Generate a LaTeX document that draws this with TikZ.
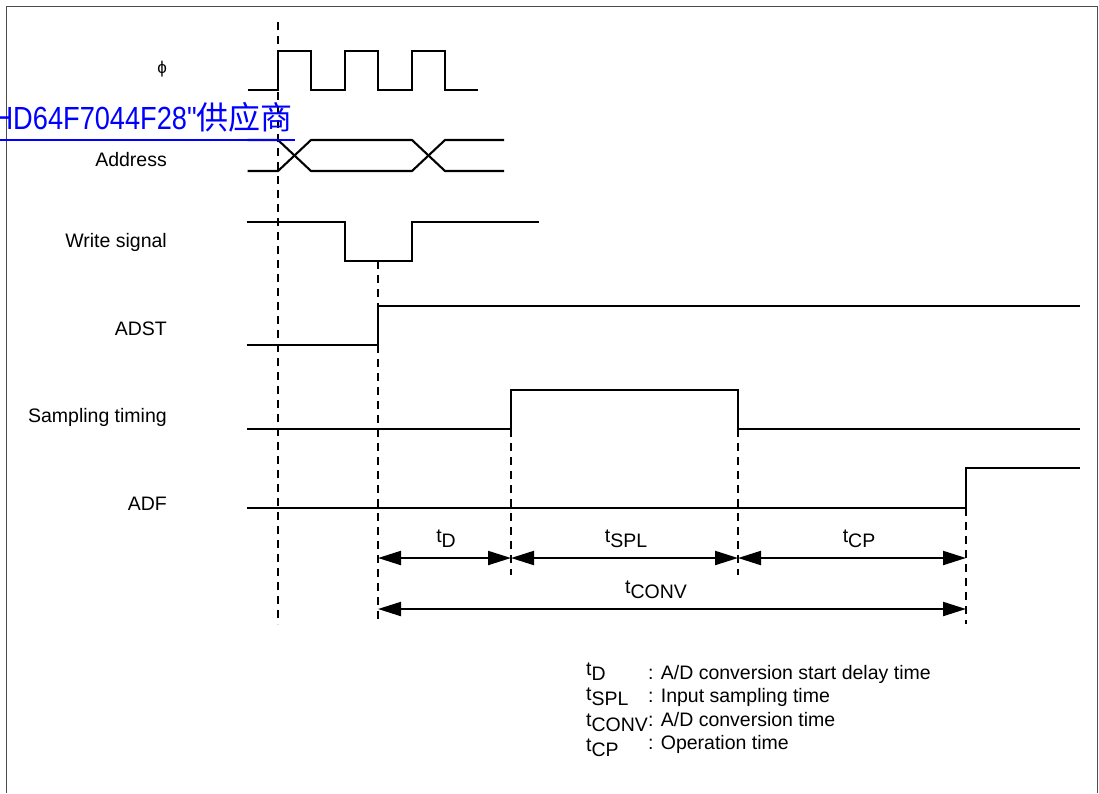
\documentclass[tikz,border=0pt]{standalone}
\usepackage{graphicx}
\usepackage{fontspec}
\setmainfont{Liberation Sans}
\newfontfamily\cjkfam{Noto Sans CJK SC}
\newfontfamily\linkfam[Ligatures=NoCommon]{Liberation Sans}
\usetikzlibrary{arrows.meta}
\newcommand{\tsub}[1]{t\raisebox{-5.5pt}{#1}}
\tikzset{
  wave/.style={line width=2.1pt,black,line join=miter},
  guide/.style={line width=2pt,black,dash pattern=on 8pt off 6pt},
  span/.style={line width=2.1pt,black,{Triangle[length=23pt,width=14pt]}-{Triangle[length=23pt,width=14pt]}},
  siglabel/.style={anchor=base east,inner sep=0pt,font=\fontsize{19.5pt}{22pt}\selectfont},
  dimlabel/.style={anchor=base,inner sep=0pt,font=\fontsize{19.5pt}{22pt}\selectfont},
  legend/.style={anchor=base west,inner sep=0pt,font=\fontsize{19.5pt}{22pt}\selectfont},
  frameline/.style={line width=1.2pt,black!70}
}
\begin{document}
\begin{tikzpicture}[x=1pt,y=-1pt]
\useasboundingbox (0,0) rectangle (1099,793);
\draw[frameline] (6.5,793) -- (6.5,6.5) -- (1097.5,6.5) -- (1097.5,793);
% guide lines
\coordinate (g1a) at (278,22); \coordinate (g1b) at (278,624);
\coordinate (g2a) at (378,261); \coordinate (g2b) at (378,624);
\coordinate (g3a) at (511,429); \coordinate (g3b) at (511,575);
\coordinate (g4a) at (738,429); \coordinate (g4b) at (738,575);
\coordinate (g5a) at (966,508); \coordinate (g5b) at (966,624);
\draw[guide] (g1a) -- (g1b);
\draw[guide] (g2a) -- (g2b);
\draw[guide] (g3a) -- (g3b);
\draw[guide] (g4a) -- (g4b);
\draw[guide] (g5a) -- (g5b);
% signal labels
\node[siglabel,font=\fontsize{17pt}{20pt}\selectfont] (lphi) at (167,73) {ϕ};
\node[siglabel] (laddr) at (167,166) {Address};
\node[siglabel] (lwrite) at (167,247) {Write signal};
\node[siglabel] (ladst) at (167,335) {ADST};
\node[siglabel] (lsamp) at (167,422) {Sampling timing};
\node[siglabel] (ladf) at (167,510) {ADF};
% waveforms
\draw[wave] (247.5,90) -- (278,90) -- (278,51) -- (311,51) -- (311,90) -- (345,90) -- (345,51) -- (378,51) -- (378,90) -- (412,90) -- (412,51) -- (445,51) -- (445,90) -- (477.5,90);
\draw[wave] (247.5,140) -- (278,140) -- (311,171) -- (412,171) -- (445,140) -- (504,140);
\draw[wave] (247.5,171) -- (278,171) -- (311,140) -- (412,140) -- (445,171) -- (504,171);
\draw[wave] (246.5,222) -- (345,222) -- (345,261) -- (412,261) -- (412,222) -- (539,222);
\draw[wave] (246.5,345) -- (378,345) -- (378,306) -- (1080,306);
\draw[wave] (247,429) -- (511,429) -- (511,390) -- (738,390) -- (738,429) -- (1080,429);
\draw[wave] (247,508) -- (966,508) -- (966,468) -- (1080,468);
% dimension arrows
\coordinate (a1) at (378,558); \coordinate (a2) at (511,558);
\coordinate (a3) at (738,558); \coordinate (a4) at (966,558);
\coordinate (b1) at (378,609); \coordinate (b2) at (966,609);
\draw[span] (a1) -- (a2);
\draw[span] (a2) -- (a3);
\draw[span] (a3) -- (a4);
\draw[span] (b1) -- (b2);
\node[dimlabel] (td) at (446,542) {\tsub{D}};
\node[dimlabel] (tspl) at (626,542) {\tsub{SPL}};
\node[dimlabel] (tcp) at (859,542) {\tsub{CP}};
\node[dimlabel] (tconv) at (656,593) {\tsub{CONV}};
% legend
\node[legend] (k1) at (586,675) {\tsub{D}};
\node[legend] (k2) at (586,700) {\tsub{SPL}};
\node[legend] (k3) at (586,726) {\tsub{CONV}};
\node[legend] (k4) at (586,751) {\tsub{CP}};
\node[legend] (v1) at (648,679) {: A/D conversion start delay time};
\node[legend] (v2) at (648,702) {: Input sampling time};
\node[legend] (v3) at (648,726) {: A/D conversion time};
\node[legend] (v4) at (648,749) {: Operation time};
% link overlay
\node[anchor=base east,inner sep=0pt,blue,font=\fontsize{32pt}{36pt}\selectfont] (link) at (293,129) {\scalebox{0.85}[1]{\linkfam HD64F7044F28\symbol{34}}{\cjkfam 供应商}};
\coordinate (u1) at (0,140); \coordinate (u2) at (295,140);
\draw[blue,line width=2pt] (u1) -- (u2);
\end{tikzpicture}
\end{document}
